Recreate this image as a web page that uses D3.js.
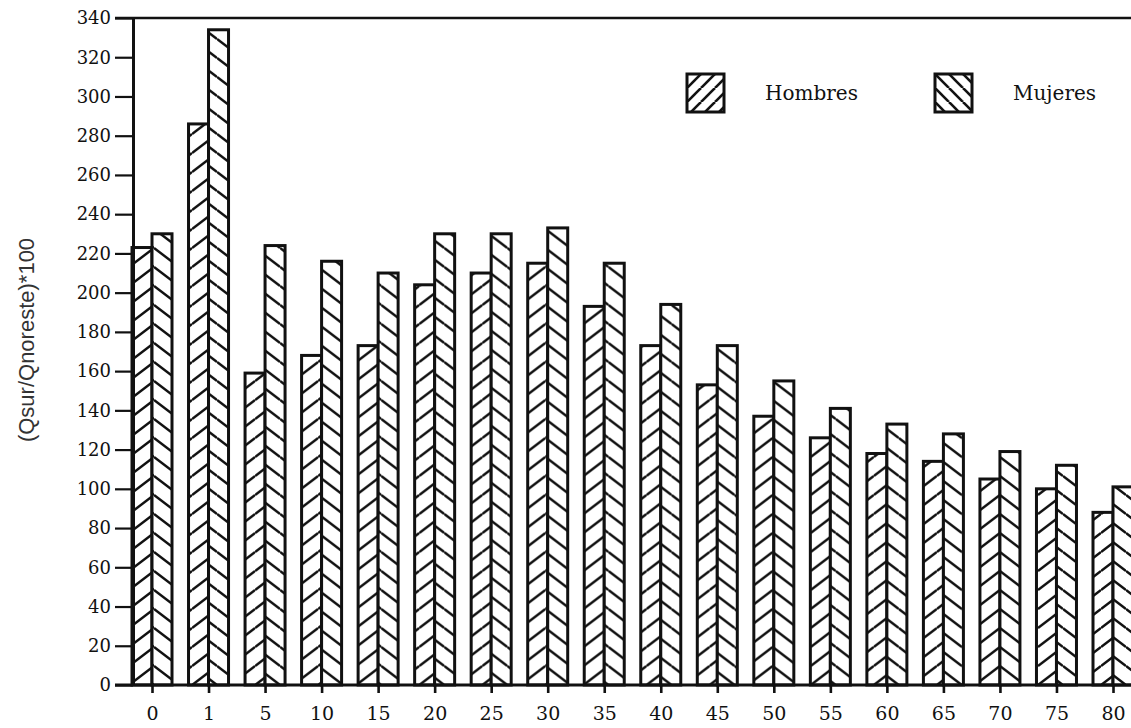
<!DOCTYPE html>
<html>
<head>
<meta charset="utf-8">
<script src="https://cdn.jsdelivr.net/npm/d3@7"></script>
<style>
  html, body { margin: 0; padding: 0; background: #fff; }
  svg { display: block; }
</style>
</head>
<body>
<svg id="chart" width="1131" height="728"></svg>
<script>
const categories = ["0","1","5","10","15","20","25","30","35","40","45","50","55","60","65","70","75","80"];
const hombres = [223, 286, 159, 168, 173, 204, 210, 215, 193, 173, 153, 137, 126, 118, 114, 105, 100, 88];
const mujeres = [230, 334, 224, 216, 210, 230, 230, 233, 215, 194, 173, 155, 141, 133, 128, 119, 112, 101];
const series = ["Hombres", "Mujeres"];
const yTicks = d3.range(0, 341, 20);
const yTitle = "(Qsur/Qnoreste)*100";

const ink = "#111";
const svg = d3.select("#chart");
const W = 1131, H = 728;

const y = d3.scaleLinear().domain([0, 340]).range([685, 18]);
const x = d3.scalePoint().domain(categories).range([152, 1113]);
const xs = d3.scaleBand().domain(series).range([-20, 20]).padding(0);

const data = categories.map((c, i) => ({cat: c, values: [
  {s: "Hombres", v: hombres[i]},
  {s: "Mujeres", v: mujeres[i]}
]}));

// patterns
const defs = svg.append("defs");
const tileW = 25, tileH = 19;
function addPattern(id, dir, tx) {
  const p = defs.append("pattern")
    .attr("id", id)
    .attr("patternUnits", "userSpaceOnUse")
    .attr("width", tileW).attr("height", tileH)
    .attr("patternTransform", `translate(${tx},${y(0)})`);
  p.append("rect").attr("width", tileW).attr("height", tileH).attr("fill", "#fff");
  [-tileH, 0, tileH].forEach(o => {
    if (dir === "up") {
      p.append("line").attr("x1", 0).attr("y1", tileH + o).attr("x2", tileW).attr("y2", o);
    } else {
      p.append("line").attr("x1", 0).attr("y1", o).attr("x2", tileW).attr("y2", tileH + o);
    }
  });
  p.selectAll("line").attr("stroke", ink).attr("stroke-width", 2.5);
}
categories.forEach((c, i) => {
  addPattern("ph" + i, "up", x(c));
  addPattern("pm" + i, "down", x(c));
});
// legend patterns
function addLegendPattern(id, dir) {
  const s = 14;
  const p = defs.append("pattern")
    .attr("id", id).attr("patternUnits", "userSpaceOnUse")
    .attr("width", s).attr("height", s)
    .attr("patternTransform", "translate(0,0)");
  p.append("rect").attr("width", s).attr("height", s).attr("fill", "#fff");
  [-s, 0, s].forEach(o => {
    if (dir === "up") p.append("line").attr("x1", o).attr("y1", s).attr("x2", s + o).attr("y2", 0);
    else p.append("line").attr("x1", o).attr("y1", 0).attr("x2", s + o).attr("y2", s);
  });
  p.selectAll("line").attr("stroke", ink).attr("stroke-width", 2.6);
}
addLegendPattern("lh", "up");
addLegendPattern("lm", "down");

// bars
const groups = svg.append("g").selectAll("g").data(data).join("g")
  .attr("transform", d => `translate(${x(d.cat)},0)`);
groups.selectAll("rect").data((d, i) => d.values.map(v => ({...v, i}))).join("rect")
  .attr("x", d => xs(d.s))
  .attr("width", xs.bandwidth())
  .attr("y", d => y(d.v))
  .attr("height", d => y(0) - y(d.v))
  .attr("fill", d => `url(#${d.s === "Hombres" ? "ph" : "pm"}${d.i})`)
  .attr("stroke", ink)
  .attr("stroke-width", 3)
  .attr("stroke-linejoin", "miter");

// y axis
const yAxis = svg.append("g")
  .attr("transform", `translate(133,0)`)
  .call(d3.axisLeft(y).tickValues(yTicks).tickSize(18).tickSizeOuter(0).tickPadding(4));
yAxis.select(".domain").attr("stroke", ink).attr("stroke-width", 3);
yAxis.selectAll(".tick line").attr("stroke", ink).attr("stroke-width", 2.2);
yAxis.selectAll(".tick text")
  .attr("fill", ink)
  .style("font-family", "'DejaVu Serif', serif")
  .style("font-size", "18px");

// top line
svg.append("line")
  .attr("x1", 115).attr("x2", W).attr("y1", y(340)).attr("y2", y(340))
  .attr("stroke", ink).attr("stroke-width", 2.6);

// x axis
const xAxis = svg.append("g")
  .attr("transform", `translate(0,${y(0)})`)
  .call(d3.axisBottom(x).tickSize(8).tickSizeOuter(0).tickPadding(14));
xAxis.select(".domain").remove();
xAxis.selectAll(".tick line").attr("stroke", ink).attr("stroke-width", 2.6);
xAxis.selectAll(".tick text")
  .attr("fill", ink)
  .style("font-family", "'DejaVu Serif', serif")
  .style("font-size", "19px");
svg.append("line")
  .attr("x1", 115).attr("x2", W).attr("y1", y(0)).attr("y2", y(0))
  .attr("stroke", ink).attr("stroke-width", 3);

// y title
svg.append("text")
  .attr("transform", `translate(34,340) rotate(-90)`)
  .attr("text-anchor", "middle")
  .attr("fill", "#333")
  .style("font-family", "'Liberation Sans', Arial, sans-serif")
  .style("font-size", "22px")
  .text(yTitle);

// legend
const legendPos = [{s: "Hombres", x: 687, p: "lh"}, {s: "Mujeres", x: 935, p: "lm"}];
const lg = svg.append("g").selectAll("g").data(legendPos).join("g")
  .attr("transform", d => `translate(${d.x},74)`);
lg.append("rect")
  .attr("width", 37).attr("height", 38)
  .attr("fill", d => `url(#${d.p})`)
  .attr("stroke", ink).attr("stroke-width", 3);
lg.append("text")
  .attr("x", 78).attr("y", 19).attr("dy", "0.35em")
  .attr("fill", ink)
  .style("font-family", "'DejaVu Serif', serif")
  .style("font-size", "20px")
  .text(d => d.s);
</script>
</body>
</html>
